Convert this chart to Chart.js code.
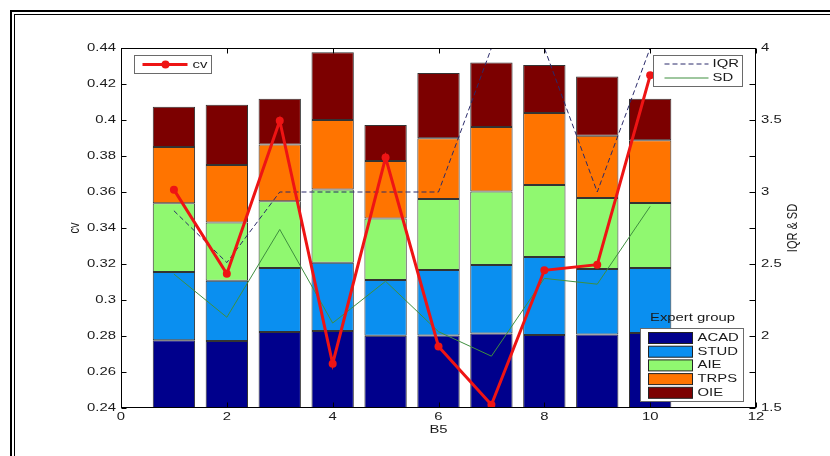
<!DOCTYPE html>
<html>
<head>
<meta charset="utf-8">
<script src="https://cdn.jsdelivr.net/npm/chart.js@4.4.1/dist/chart.umd.min.js"></script>
<style>
  html, body { margin: 0; padding: 0; background: #fff; }
  #wrap { width: 830px; height: 456px; position: relative; }
</style>
</head>
<body>
<div id="wrap"><canvas id="chart"></canvas></div>
<script>
// B5 positions on the x axis
const positions = [1, 2, 3, 4, 5, 6, 7, 8, 9, 10];
const groups = ['ACAD', 'STUD', 'AIE', 'TRPS', 'OIE'];

// stacked bar segments (ACAD counted from zero, axis starts at 0.24)
const acad = [0.2776, 0.2772, 0.2822, 0.2828, 0.2802, 0.2803, 0.2814, 0.2806, 0.2809, 0.2817];
const stud = [0.0380, 0.0335, 0.0356, 0.0379, 0.0309, 0.0364, 0.0380, 0.0433, 0.0363, 0.0361];
const aie  = [0.0381, 0.0324, 0.0370, 0.0407, 0.0342, 0.0394, 0.0409, 0.0400, 0.0395, 0.0361];
const trps = [0.0313, 0.0319, 0.0316, 0.0386, 0.0319, 0.0337, 0.0358, 0.0400, 0.0346, 0.0348];
const oie  = [0.0224, 0.0335, 0.0254, 0.0376, 0.0200, 0.0363, 0.0359, 0.0267, 0.0328, 0.0231];

// lines
const cv  = [0.3613, 0.3146, 0.3996, 0.2646, 0.3791, 0.2742, 0.2418, 0.3165, 0.3196, 0.4248];
const iqr = [2.87, 2.51, 3.0, 3.0, 3.0, 3.0, 4.0, 4.0, 3.0, 4.0];
const sd  = [2.43, 2.13, 2.74, 2.09, 2.38, 2.03, 1.86, 2.40, 2.36, 2.90];

const barColors = ['#00008c', '#0a8ff0', '#90f870', '#ff7400', '#7c0000'];
const barSeries = [acad, stud, aie, trps, oie];
const cvColor = '#ee1414';
const iqrColor = '#2a2a6a';
const sdColor = '#3f8f3f';

const FONT = '11px "Liberation Sans", Arial, sans-serif';
const SX = 1.35; // the original figure is stretched sideways
const textColor = '#1a1a1a';

const toPoints = vals => positions.map((x, i) => ({ x: x, y: vals[i] }));

function txt(ctx, s, x, y, align) {
    ctx.save();
    ctx.translate(x, y);
    ctx.scale(SX, 1);
    ctx.font = FONT;
    ctx.fillStyle = textColor;
    ctx.textAlign = align || 'center';
    ctx.textBaseline = 'middle';
    ctx.fillText(s, 0, 0);
    ctx.restore();
}

function vtxt(ctx, s, x, y) {
    ctx.save();
    ctx.translate(x, y);
    ctx.rotate(-Math.PI / 2);
    ctx.scale(1, SX);
    ctx.font = FONT;
    ctx.fillStyle = textColor;
    ctx.textAlign = 'center';
    ctx.textBaseline = 'middle';
    ctx.fillText(s, 0, 0);
    ctx.restore();
}

function fmt(v) {
    return String(+v.toFixed(2));
}

const figurePlugin = {
    id: 'figure',
    beforeDraw(chart) {
        const ctx = chart.ctx;
        ctx.save();
        ctx.fillStyle = '#fff';
        ctx.fillRect(0, 0, chart.width, chart.height);
        // double page border
        ctx.strokeStyle = '#000';
        ctx.lineWidth = 2;
        ctx.strokeRect(11, 11, 900, 900);
        ctx.lineWidth = 1;
        ctx.strokeRect(14.5, 14.5, 900, 900);
        ctx.restore();
    },
    afterDraw(chart) {
        const ctx = chart.ctx;
        const ca = chart.chartArea;
        const xs = chart.scales.x, ys = chart.scales.y, y2 = chart.scales.y2;
        const L = ca.left + 0.5, R = ca.right - 0.5, T = ca.top + 0.5, B = ca.bottom - 0.5;

        ctx.save();
        // axes box
        ctx.strokeStyle = '#000';
        ctx.lineWidth = 1;
        ctx.strokeRect(L, T, R - L, B - T);

        // inward ticks
        ctx.beginPath();
        xs.ticks.forEach(t => {
            const px = Math.round(xs.getPixelForValue(t.value)) + 0.5;
            ctx.moveTo(px, B); ctx.lineTo(px, B - 5);
            ctx.moveTo(px, T); ctx.lineTo(px, T + 5);
        });
        ys.ticks.forEach(t => {
            const py = Math.round(ys.getPixelForValue(t.value)) + 0.5;
            ctx.moveTo(L, py); ctx.lineTo(L + 5, py);
        });
        y2.ticks.forEach(t => {
            const py = Math.round(y2.getPixelForValue(t.value)) + 0.5;
            ctx.moveTo(R, py); ctx.lineTo(R - 6, py);
        });
        ctx.stroke();
        ctx.restore();

        // tick labels
        xs.ticks.forEach(t => txt(ctx, fmt(t.value), xs.getPixelForValue(t.value), ca.bottom + 9, 'center'));
        ys.ticks.forEach(t => txt(ctx, fmt(t.value), ca.left - 5, ys.getPixelForValue(t.value), 'right'));
        y2.ticks.forEach(t => {
            if (Math.abs(t.value * 2 - Math.round(t.value * 2)) < 1e-6) {
                txt(ctx, fmt(t.value), ca.right + 5, y2.getPixelForValue(t.value), 'left');
            }
        });

        // axis titles
        txt(ctx, 'B5', (ca.left + ca.right) / 2, ca.bottom + 22, 'center');
        vtxt(ctx, 'cv', ca.left - 46, 228);
        vtxt(ctx, 'IQR & SD', ca.right + 37, 228);

        // cv legend (top left)
        ctx.save();
        let bx = ca.left + 13.5, by = ca.top + 7.5;
        ctx.fillStyle = '#fff';
        ctx.fillRect(bx, by, 77, 18);
        ctx.strokeStyle = '#6a6a6a';
        ctx.lineWidth = 1;
        ctx.strokeRect(bx, by, 77, 18);
        ctx.strokeStyle = cvColor;
        ctx.lineWidth = 3;
        ctx.beginPath();
        ctx.moveTo(bx + 8, by + 9); ctx.lineTo(bx + 53, by + 9);
        ctx.stroke();
        ctx.fillStyle = cvColor;
        ctx.beginPath();
        ctx.arc(bx + 31, by + 9, 4, 0, Math.PI * 2);
        ctx.fill();
        ctx.restore();
        txt(ctx, 'cv', bx + 58, by + 9.5, 'left');

        // IQR / SD legend (top right)
        ctx.save();
        bx = ca.right - 102.5; by = ca.top + 7.5;
        ctx.fillStyle = '#fff';
        ctx.fillRect(bx, by, 89, 31);
        ctx.strokeStyle = '#6a6a6a';
        ctx.lineWidth = 1;
        ctx.strokeRect(bx, by, 89, 31);
        ctx.strokeStyle = iqrColor;
        ctx.setLineDash([5, 3]);
        ctx.beginPath();
        ctx.moveTo(bx + 11, by + 8.5); ctx.lineTo(bx + 55, by + 8.5);
        ctx.stroke();
        ctx.setLineDash([]);
        ctx.strokeStyle = sdColor;
        ctx.beginPath();
        ctx.moveTo(bx + 11, by + 22.5); ctx.lineTo(bx + 55, by + 22.5);
        ctx.stroke();
        ctx.restore();
        txt(ctx, 'IQR', bx + 59, by + 8.5, 'left');
        txt(ctx, 'SD', bx + 59, by + 22.5, 'left');

        // expert group legend (bottom right)
        txt(ctx, 'Expert group', ca.right - 63.5, ca.bottom - 90.5, 'center');
        ctx.save();
        bx = ca.right - 115.5; by = ca.bottom - 79.5;
        ctx.fillStyle = '#fff';
        ctx.fillRect(bx, by, 103, 73);
        ctx.strokeStyle = '#6a6a6a';
        ctx.lineWidth = 1;
        ctx.strokeRect(bx, by, 103, 73);
        groups.forEach((g, k) => {
            const ry = by + 4 + k * 13.7;
            ctx.fillStyle = barColors[k];
            ctx.fillRect(bx + 8, ry, 44, 11);
            ctx.strokeStyle = '#222';
            ctx.strokeRect(bx + 8, ry, 44, 11);
        });
        ctx.restore();
        groups.forEach((g, k) => txt(ctx, g, bx + 57, by + 9.5 + k * 13.7, 'left'));
    }
};

const datasets = [
    {
        type: 'line', label: 'cv', data: toPoints(cv), yAxisID: 'y', stack: 'cv',
        borderColor: cvColor, backgroundColor: cvColor, borderWidth: 3,
        pointRadius: 4, pointHoverRadius: 4, pointBorderWidth: 0, order: 0
    },
    {
        type: 'line', label: 'IQR', data: toPoints(iqr), yAxisID: 'y2',
        borderColor: iqrColor, borderWidth: 1, borderDash: [5, 3], pointRadius: 0, order: 1
    },
    {
        type: 'line', label: 'SD', data: toPoints(sd), yAxisID: 'y2',
        borderColor: sdColor, borderWidth: 1, pointRadius: 0, order: 1
    }
];
groups.forEach((g, k) => {
    datasets.push({
        type: 'bar', label: g, data: toPoints(barSeries[k]), yAxisID: 'y',
        backgroundColor: barColors[k], borderColor: '#333', borderWidth: 1,
        borderSkipped: false, barPercentage: 1, categoryPercentage: 0.8,
        clip: 0, order: 2
    });
});

new Chart(document.getElementById('chart'), {
    type: 'bar',
    data: { datasets: datasets },
    options: {
        responsive: true,
        maintainAspectRatio: false,
        animation: false,
        events: [],
        layout: { padding: { top: 48, left: 0, right: 0, bottom: 0 } },
        plugins: { legend: { display: false }, tooltip: { enabled: false } },
        scales: {
            x: {
                type: 'linear', min: 0, max: 12, offset: false, stacked: true,
                ticks: { display: false, stepSize: 2 },
                grid: { display: false, drawTicks: false, offset: false },
                border: { display: false },
                afterFit: s => { s.height = 48; }
            },
            y: {
                type: 'linear', position: 'left', min: 0.24, max: 0.44, stacked: true,
                ticks: { display: false, stepSize: 0.02 },
                grid: { display: false, drawTicks: false },
                border: { display: false },
                afterFit: s => { s.width = 121; }
            },
            y2: {
                type: 'linear', position: 'right', min: 1.5, max: 4,
                ticks: { display: false, stepSize: 0.25 },
                grid: { display: false, drawTicks: false },
                border: { display: false },
                afterFit: s => { s.width = 74; }
            }
        }
    },
    plugins: [figurePlugin]
});
</script>
</body>
</html>
